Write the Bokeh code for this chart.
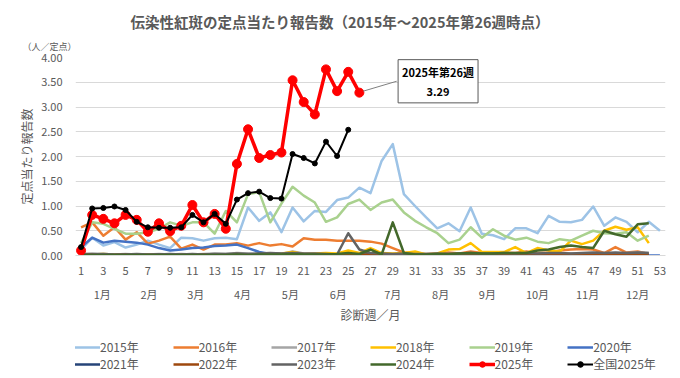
from bokeh.plotting import figure
from bokeh.layouts import column
from bokeh.models import (FixedTicker, LinearAxis, Label, Legend, LegendItem,
                          NumeralTickFormatter, Range1d, Title)
from bokeh.embed import file_html
from bokeh.resources import INLINE

# ---------------- data ----------------
weeks = list(range(1, 54))

y2015 = [0.12, 0.36, 0.20, 0.27, 0.16, 0.22, 0.30, 0.22, 0.15, 0.36, 0.35, 0.30, 0.35, 0.36, 0.33,
         0.97, 0.70, 0.87, 0.47, 0.97, 0.69, 0.90, 0.88, 1.12, 1.17, 1.37, 1.26, 1.91, 2.25, 1.24,
         1.00, 0.77, 0.55, 0.65, 0.49, 0.97, 0.44, 0.41, 0.33, 0.55, 0.55, 0.45, 0.80, 0.68, 0.67,
         0.72, 0.99, 0.60, 0.77, 0.68, 0.47, 0.68, 0.50]
y2016 = [0.57, 0.67, 0.40, 0.57, 0.32, 0.47, 0.24, 0.30, 0.38, 0.14, 0.22, 0.12, 0.22, 0.22, 0.25,
         0.20, 0.25, 0.20, 0.23, 0.18, 0.35, 0.32, 0.32, 0.30, 0.30, 0.30, 0.28, 0.24, 0.15, 0.06,
         0.04, 0.03, 0.04, 0.06, 0.04, 0.08, 0.05, 0.04, 0.06, 0.05, 0.08, 0.05, 0.06, 0.10, 0.12,
         0.13, 0.12, 0.05, 0.17, 0.06, 0.08, 0.03]
y2017 = [0.03, 0.04, 0.03, 0.02, 0.03, 0.02, 0.02, 0.03, 0.02, 0.03, 0.02, 0.03, 0.04, 0.03, 0.05,
         0.04, 0.03, 0.04, 0.03, 0.08, 0.04, 0.03, 0.02, 0.03, 0.02, 0.03, 0.02, 0.02, 0.03, 0.02,
         0.02, 0.03, 0.02, 0.03, 0.02, 0.02, 0.03, 0.02, 0.03, 0.02, 0.02, 0.03, 0.02, 0.03, 0.04,
         0.03, 0.04, 0.05, 0.04, 0.05, 0.06, 0.05]
y2018 = [0.02, 0.02, 0.03, 0.02, 0.02, 0.01, 0.02, 0.01, 0.02, 0.01, 0.02, 0.02, 0.01, 0.02, 0.03,
         0.02, 0.03, 0.02, 0.04, 0.07, 0.03, 0.04, 0.05, 0.04, 0.10, 0.05, 0.15, 0.05, 0.04, 0.05,
         0.08, 0.02, 0.04, 0.12, 0.13, 0.25, 0.07, 0.07, 0.07, 0.17, 0.05, 0.15, 0.10, 0.08, 0.30,
         0.23, 0.30, 0.50, 0.58, 0.52, 0.57, 0.25]
y2019 = [0.25, 0.67, 0.64, 0.54, 0.44, 0.44, 0.47, 0.54, 0.67, 0.60, 0.67, 0.67, 0.44, 0.90, 0.67,
         1.24, 1.28, 0.67, 1.05, 1.39, 1.21, 1.07, 0.68, 0.77, 1.04, 1.13, 0.92, 1.07, 1.13, 0.87,
         0.70, 0.57, 0.45, 0.25, 0.32, 0.57, 0.36, 0.53, 0.40, 0.32, 0.36, 0.28, 0.25, 0.33, 0.30,
         0.40, 0.50, 0.45, 0.44, 0.47, 0.30, 0.40]
y2020 = [0.17, 0.36, 0.26, 0.30, 0.28, 0.26, 0.22, 0.15, 0.10, 0.12, 0.15, 0.16, 0.19, 0.20, 0.22,
         0.15, 0.07, 0.03, 0.02, 0.02, 0.01, 0.01, 0.01, 0.01, 0.01, 0.01, 0.01, 0.01, 0.01, 0.01,
         0.01, 0.01, 0.01, 0.01, 0.01, 0.01, 0.01, 0.01, 0.01, 0.01, 0.01, 0.01, 0.01, 0.01, 0.01,
         0.01, 0.01, 0.01, 0.01, 0.01, 0.01, 0.00, 0.00]
y2021 = [0.02, 0.02, 0.02, 0.01, 0.02, 0.01, 0.01, 0.02, 0.01, 0.01, 0.02, 0.01, 0.02, 0.02, 0.03,
         0.02, 0.03, 0.04, 0.03, 0.02, 0.02, 0.02, 0.01, 0.02, 0.01, 0.01, 0.02, 0.01, 0.01, 0.01,
         0.02, 0.01, 0.01, 0.01, 0.02, 0.01, 0.01, 0.01, 0.01, 0.02, 0.01, 0.01, 0.01, 0.01, 0.02,
         0.01, 0.01, 0.01, 0.01, 0.02, 0.01, 0.01]
y2022 = [0.01, 0.02, 0.01, 0.01, 0.02, 0.01, 0.01, 0.01, 0.02, 0.01, 0.01, 0.02, 0.01, 0.02, 0.01,
         0.01, 0.02, 0.01, 0.02, 0.04, 0.02, 0.01, 0.02, 0.01, 0.02, 0.01, 0.02, 0.01, 0.02, 0.02,
         0.01, 0.02, 0.01, 0.02, 0.01, 0.02, 0.02, 0.01, 0.02, 0.02, 0.03, 0.02, 0.02, 0.03, 0.02,
         0.03, 0.02, 0.03, 0.02, 0.02, 0.03, 0.02]
y2023 = [0.02, 0.02, 0.03, 0.02, 0.02, 0.03, 0.02, 0.02, 0.03, 0.02, 0.03, 0.02, 0.03, 0.03, 0.04,
         0.03, 0.04, 0.05, 0.04, 0.05, 0.04, 0.04, 0.03, 0.02, 0.45, 0.12, 0.05, 0.04, 0.03, 0.04,
         0.03, 0.03, 0.04, 0.03, 0.04, 0.05, 0.04, 0.04, 0.05, 0.04, 0.05, 0.04, 0.05, 0.05, 0.04,
         0.05, 0.06, 0.05, 0.06, 0.05, 0.06, 0.05]
y2024 = [0.01, 0.01, 0.01, 0.01, 0.01, 0.01, 0.01, 0.01, 0.01, 0.01, 0.01, 0.01, 0.01, 0.01, 0.02,
         0.01, 0.02, 0.02, 0.02, 0.03, 0.02, 0.02, 0.02, 0.03, 0.05, 0.03, 0.12, 0.02, 0.67, 0.05,
         0.02, 0.02, 0.03, 0.03, 0.04, 0.05, 0.04, 0.04, 0.05, 0.05, 0.05, 0.10, 0.12, 0.17, 0.20,
         0.17, 0.15, 0.50, 0.43, 0.38, 0.63, 0.65]
y2025 = [0.10, 0.82, 0.74, 0.65, 0.82, 0.72, 0.48, 0.65, 0.49, 0.60, 1.02, 0.67, 0.84, 0.54, 1.85,
         2.55, 1.97, 2.03, 2.08, 3.54, 3.10, 2.85, 3.76, 3.32, 3.71, 3.29]
national2025 = [0.17, 0.95, 0.96, 0.99, 0.92, 0.68, 0.57, 0.56, 0.56, 0.57, 0.82, 0.67, 0.84, 0.64,
                1.13, 1.26, 1.29, 1.16, 1.15, 2.05, 1.97, 1.86, 2.30, 2.01, 2.54]

series_names = ["2015年", "2016年", "2017年", "2018年", "2019年", "2020年",
                "2021年", "2022年", "2023年", "2024年"]
series_values = [y2015, y2016, y2017, y2018, y2019, y2020, y2021, y2022, y2023, y2024]
series_colors = ["#9DC3E6", "#ED7D31", "#A5A5A5", "#FFC000", "#A9D18E", "#4472C4",
                 "#264478", "#9E480E", "#636363", "#43682B"]

odd_ticks = list(range(1, 54, 2))
month_labels = ["1月", "2月", "3月", "4月", "5月", "6月", "7月", "8月", "9月", "10月", "11月", "12月"]
month_pos = [2.9, 7.1, 11.3, 15.5, 19.8, 24.1, 29.0, 33.3, 37.5, 42.0, 46.5, 51.0]
y_ticks = [0, 0.5, 1.0, 1.5, 2.0, 2.5, 3.0, 3.5, 4.0]

FONT = "Noto Sans CJK JP"
GREY = "#595959"

# ---------------- main figure ----------------
p = figure(width=672, height=330, output_backend="svg", toolbar_location=None,
           x_range=Range1d(0.5, 53.5), y_range=Range1d(0, 4),
           min_border_left=75, min_border_right=7, min_border_top=57, min_border_bottom=75)
p.outline_line_color = None
p.background_fill_color = "white"
p.border_fill_color = "white"

# titles (outermost: p.title)
p.title.text = "伝染性紅斑の定点当たり報告数（2015年～2025年第26週時点）"
p.title.align = "left"
p.title.offset = 55
p.title.text_font = FONT
p.title.text_font_size = "14.5px"
p.title.text_font_style = "bold"
p.title.text_color = GREY
p.title.standoff = 4

p.add_layout(Title(text="（人／定点）", align="left", offset=-53, text_font=FONT,
                   text_font_size="9px", text_font_style="normal", text_color=GREY,
                   standoff=9), "above")

p.xgrid.grid_line_color = None
p.ygrid.grid_line_color = "#D9D9D9"
p.ygrid.grid_line_width = 1
p.ygrid.ticker = FixedTicker(ticks=y_ticks)

# y axis
yax = p.yaxis[0]
yax.ticker = FixedTicker(ticks=y_ticks)
yax.formatter = NumeralTickFormatter(format="0.00")
yax.axis_line_color = None
yax.major_tick_line_color = None
yax.minor_tick_line_color = None
yax.major_label_text_font = FONT
yax.major_label_text_font_size = "11px"
yax.major_label_text_color = GREY
yax.major_label_standoff = 7
yax.axis_label = "定点当たり報告数"
yax.axis_label_text_font = FONT
yax.axis_label_text_font_size = "12px"
yax.axis_label_text_font_style = "normal"
yax.axis_label_text_color = GREY
yax.axis_label_standoff = 3

# x axis (weeks)
xax = p.xaxis[0]
xax.ticker = FixedTicker(ticks=odd_ticks)
xax.axis_line_color = "#D9D9D9"
xax.major_tick_line_color = None
xax.minor_tick_line_color = None
xax.major_label_text_font = FONT
xax.major_label_text_font_size = "11px"
xax.major_label_text_color = GREY
xax.major_label_standoff = 5

# month axis
max2 = LinearAxis(ticker=FixedTicker(ticks=month_pos),
                  major_label_overrides={pos: lab for pos, lab in zip(month_pos, month_labels)})
max2.axis_line_color = None
max2.major_tick_line_color = None
max2.minor_tick_line_color = None
max2.major_label_text_font = FONT
max2.major_label_text_font_size = "11px"
max2.major_label_text_color = GREY
max2.major_label_standoff = 2
max2.axis_label = "診断週／月"
max2.axis_label_text_font = FONT
max2.axis_label_text_font_size = "12px"
max2.axis_label_text_font_style = "normal"
max2.axis_label_text_color = GREY
max2.axis_label_standoff = 1
p.add_layout(max2, "below")

# ---------------- series ----------------
styles = []
for name, vals, col in zip(series_names, series_values, series_colors):
    p.line(weeks[:len(vals)], vals, line_color=col, line_width=2.5, line_join="round")
    styles.append((name, col, 2.5, None))

w25 = weeks[:len(y2025)]
p.line(w25, y2025, line_color="#FF0000", line_width=3.5, line_join="round")
p.scatter(w25, y2025, marker="circle", size=9, fill_color="#FF0000", line_color="#FF0000")
styles.append(("2025年", "#FF0000", 3.5, 9))

wn = weeks[:len(national2025)]
p.line(wn, national2025, line_color="#000000", line_width=2, line_join="round")
p.scatter(wn, national2025, marker="circle", size=5, fill_color="#000000", line_color="#000000")
styles.append(("全国2025年", "#000000", 2, 5))

# ---------------- annotation ----------------
last_w = w25[-1]
last_v = y2025[-1]
ann_x, ann_y = 33.07, 3.52
p.segment(x0=[last_w + 0.35], y0=[last_v + 0.03], x1=[ann_x - 3.72], y1=[ann_y],
          line_color="#7F7F7F", line_width=1)
p.add_layout(Label(x=ann_x, y=ann_y, text=f"2025年第{last_w}週\n{last_v:.2f}",
                   text_align="center", text_baseline="middle",
                   text_font=FONT, text_font_size="11px", text_font_style="bold",
                   text_color="#000000", background_fill_color="white",
                   border_line_color="#595959", border_line_width=1, padding=4))

# ---------------- legend strip ----------------
lg = figure(width=672, height=42, output_backend="svg", toolbar_location=None,
            x_range=Range1d(0, 1), y_range=Range1d(0, 1),
            x_axis_location=None, y_axis_location=None,
            min_border_left=0, min_border_right=0, min_border_top=0, min_border_bottom=0)
lg.grid.visible = False
lg.outline_line_color = None
lg.background_fill_color = "white"
lg.border_fill_color = "white"

items = []
for name, col, lw, ms in styles:
    rs = [lg.line([5, 6], [5, 6], line_color=col, line_width=lw)]
    if ms is not None:
        rs.append(lg.scatter([5], [5], marker="circle", size=ms, fill_color=col, line_color=col))
    items.append(LegendItem(label=name, renderers=rs))

def make_legend(its, loc):
    return Legend(items=its, orientation="horizontal", location=loc,
                  glyph_width=26, glyph_height=14, label_standoff=0, spacing=34,
                  padding=0, margin=0, label_text_font=FONT, label_text_font_size="12px",
                  label_text_color=GREY, label_height=14,
                  background_fill_alpha=0, border_line_color=None)

lg.add_layout(make_legend(items[:6], (-1, 17)), "center")
lg.add_layout(make_legend(items[6:], (-1, 0)), "center")

open("out.html", "w").write(file_html(column(p, lg, spacing=0), INLINE))
